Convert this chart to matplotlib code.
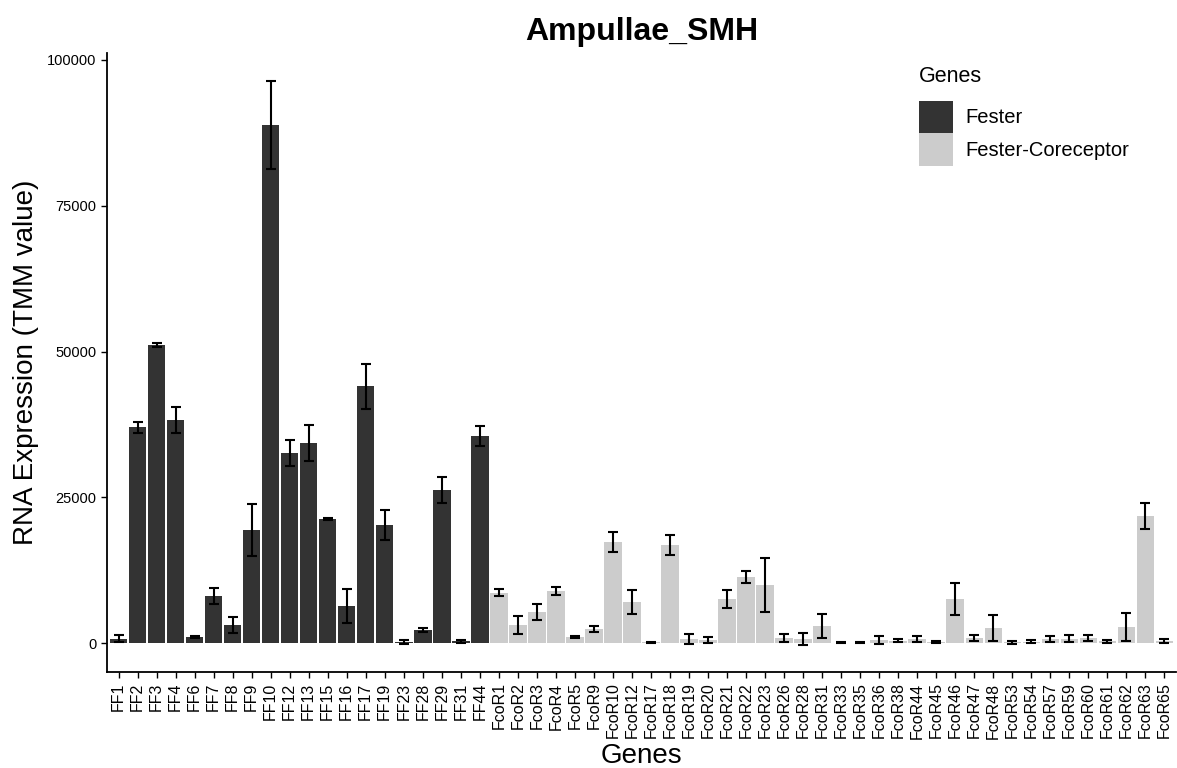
import matplotlib.pyplot as plt
from matplotlib.patches import Patch

plt.rcParams['font.family'] = ['Liberation Sans', 'DejaVu Sans']

# data
fester_genes = ['FF1', 'FF2', 'FF3', 'FF4', 'FF6', 'FF7', 'FF8', 'FF9', 'FF10', 'FF12',
                'FF13', 'FF15', 'FF16', 'FF17', 'FF19', 'FF23', 'FF28', 'FF29', 'FF31', 'FF44']
fester_vals = [700, 37000, 51100, 38250, 1000, 8060, 3090, 19380, 88840, 32600,
               34300, 21270, 6350, 44070, 20240, 200, 2230, 26240, 300, 35500]
fester_err = [600, 900, 400, 2200, 200, 1450, 1450, 4500, 7600, 2300,
              3100, 150, 2850, 3850, 2500, 300, 350, 2150, 300, 1750]

coreceptor_genes = ['FcoR1', 'FcoR2', 'FcoR3', 'FcoR4', 'FcoR5', 'FcoR9', 'FcoR10', 'FcoR12',
                    'FcoR17', 'FcoR18', 'FcoR19', 'FcoR20', 'FcoR21', 'FcoR22', 'FcoR23',
                    'FcoR26', 'FcoR28', 'FcoR31', 'FcoR33', 'FcoR35', 'FcoR36', 'FcoR38',
                    'FcoR44', 'FcoR45', 'FcoR46', 'FcoR47', 'FcoR48', 'FcoR53', 'FcoR54',
                    'FcoR57', 'FcoR59', 'FcoR60', 'FcoR61', 'FcoR62', 'FcoR63', 'FcoR65']
coreceptor_vals = [8630, 3090, 5320, 8920, 1030, 2400, 17320, 7030,
                   100, 16800, 700, 500, 7550, 11320, 9950,
                   860, 690, 2900, 50, 50, 500, 400,
                   690, 200, 7550, 860, 2570, 150, 250,
                   700, 700, 860, 300, 2750, 21780, 350]
coreceptor_err = [600, 1550, 1450, 650, 200, 500, 1750, 2000,
                  80, 1700, 900, 450, 1600, 1000, 4700,
                  700, 1100, 2100, 80, 80, 700, 300,
                  500, 200, 2800, 500, 2200, 250, 250,
                  450, 600, 500, 300, 2400, 2300, 350]

genes = fester_genes + coreceptor_genes
vals = fester_vals + coreceptor_vals
errs = fester_err + coreceptor_err
dark = '#333333'
light = '#CCCCCC'
colors = [dark] * len(fester_genes) + [light] * len(coreceptor_genes)
x = list(range(len(genes)))

fig = plt.figure(figsize=(11.77, 7.68), dpi=100)
ax = fig.add_axes([0.091, 0.125, 0.908, 0.806])

ax.bar(x, vals, width=0.92, color=colors, edgecolor='none')
ax.errorbar(x, vals, yerr=errs, fmt='none', ecolor='black', elinewidth=1.5,
            capsize=3.5, capthick=1.5)

ax.set_xlim(-0.6, len(genes) - 0.4)
ax.set_ylim(-4970, 101200)
ax.set_yticks([0, 25000, 50000, 75000, 100000])
ax.set_xticks(x)
ax.set_xticklabels(genes, rotation=90, fontsize=11.5)
ax.tick_params(axis='y', labelsize=10.5, length=4, width=1)
ax.tick_params(axis='x', length=4, width=1)

for s in ['top', 'right']:
    ax.spines[s].set_visible(False)
for s in ['left', 'bottom']:
    ax.spines[s].set_linewidth(1.3)

ax.set_ylabel('RNA Expression (TMM value)', fontsize=20, labelpad=6)
ax.set_xlabel('Genes', fontsize=20, labelpad=3)
fig.suptitle('Ampullae_SMH', fontsize=23, fontweight='bold', x=0.545, y=0.978)

handles = [Patch(facecolor=dark, label='Fester'),
           Patch(facecolor=light, label='Fester-Coreceptor')]
leg = fig.legend(handles=handles, title='Genes', loc='upper left',
                 bbox_to_anchor=(919 / 1177, 1 - 66 / 768), frameon=False,
                 fontsize=14.5, title_fontsize=15.5, handlelength=1.7,
                 handleheight=2.1, labelspacing=0.0, handletextpad=0.6,
                 borderpad=0, borderaxespad=0)
leg._legend_box.align = 'left'
leg._legend_box.sep = 10

fig.savefig('out.png', dpi=100)
